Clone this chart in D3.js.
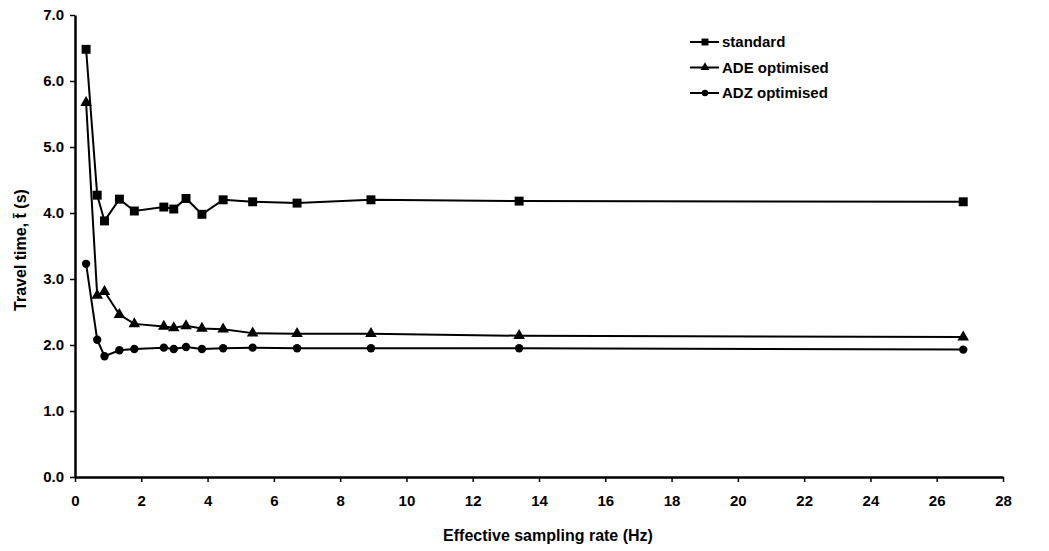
<!DOCTYPE html>
<html>
<head>
<meta charset="utf-8">
<script src="https://cdn.jsdelivr.net/npm/d3@7"></script>
<style>
  body { margin: 0; background: #fff; }
  svg { display: block; font-family: "Liberation Sans", Arial, sans-serif; }
  .axis path, .axis line { stroke: #000; }
  .axis text { font-size: 15px; font-weight: bold; fill: #000; }
</style>
</head>
<body>
<script>
// effective sampling rate (Hz) for each run
var rates = [0.335, 0.67, 0.89, 1.34, 1.79, 2.68, 2.98, 3.35, 3.83, 4.47, 5.36, 6.7, 8.93, 13.4, 26.8];

// mean travel time (s)
var standard = [6.48, 4.27, 3.88, 4.21, 4.03, 4.09, 4.06, 4.22, 3.98, 4.20, 4.17, 4.15, 4.20, 4.18, 4.17];
var adeOptimised = [5.67, 2.75, 2.81, 2.46, 2.32, 2.28, 2.26, 2.29, 2.25, 2.24, 2.18, 2.17, 2.17, 2.14, 2.12];
var adzOptimised = [3.23, 2.08, 1.83, 1.92, 1.94, 1.96, 1.94, 1.97, 1.94, 1.95, 1.96, 1.95, 1.95, 1.95, 1.93];

var seriesNames = ["standard", "ADE optimised", "ADZ optimised"];
var seriesSymbols = [d3.symbolSquare, d3.symbolTriangle, d3.symbolCircle];
var xTicks = d3.range(0, 29, 2);
var yTicks = d3.range(0, 8, 1);

var W = 1049, H = 551;
var margin = {left: 75, right: 46, top: 15, bottom: 74};

var svg = d3.select("body").append("svg")
    .attr("width", W)
    .attr("height", H);

var x = d3.scaleLinear().domain([0, 28]).range([margin.left, W - margin.right]);
var y = d3.scaleLinear().domain([0, 7]).range([H - margin.bottom, margin.top]);

// axes
var xAxis = svg.append("g")
    .attr("class", "axis")
    .attr("transform", "translate(0," + y(0) + ")")
    .call(d3.axisBottom(x).tickValues(xTicks).tickSize(5).tickPadding(13).tickSizeOuter(0));
xAxis.select(".domain").attr("stroke-width", 2.5);
xAxis.selectAll(".tick line").attr("stroke-width", 1.5);

var yAxis = svg.append("g")
    .attr("class", "axis")
    .attr("transform", "translate(" + x(0) + ",0)")
    .call(d3.axisLeft(y).tickValues(yTicks).tickFormat(d3.format(".1f")).tickSize(5).tickPadding(6).tickSizeOuter(0));
yAxis.select(".domain").attr("stroke-width", 2.5);
yAxis.selectAll(".tick line").attr("stroke-width", 1.5);

// axis titles
svg.append("text")
    .attr("x", 548).attr("y", 541)
    .attr("text-anchor", "middle")
    .attr("font-size", 16).attr("font-weight", "bold")
    .text("Effective sampling rate (Hz)");

svg.append("text")
    .attr("transform", "translate(26,250) rotate(-90)")
    .attr("text-anchor", "middle")
    .attr("font-size", 16).attr("font-weight", "bold")
    .text("Travel time, t\u0304 (s)");

// lines + markers
var series = [standard, adeOptimised, adzOptimised];
var line = d3.line()
    .x(function(d, i) { return x(rates[i]); })
    .y(function(d) { return y(d); });
var symbolSizes = [80, 58, 55];

series.forEach(function(vals, k) {
  svg.append("path")
      .attr("d", line(vals))
      .attr("fill", "none")
      .attr("stroke", "#000")
      .attr("stroke-width", 2);
  svg.append("g").selectAll("path")
      .data(vals)
    .enter().append("path")
      .attr("transform", function(d, i) { return "translate(" + x(rates[i]) + "," + y(d) + ")"; })
      .attr("d", d3.symbol().type(seriesSymbols[k]).size(symbolSizes[k]))
      .attr("fill", "#000");
});

// legend
var legend = svg.append("g").attr("transform", "translate(690,42)");
seriesNames.forEach(function(name, k) {
  var row = legend.append("g").attr("transform", "translate(0," + (k * 25.5) + ")");
  row.append("line")
      .attr("x1", 0).attr("x2", 29)
      .attr("stroke", "#000").attr("stroke-width", 2);
  row.append("path")
      .attr("transform", "translate(15,0)")
      .attr("d", d3.symbol().type(seriesSymbols[k]).size(symbolSizes[k] * 0.6))
      .attr("fill", "#000");
  row.append("text")
      .attr("x", 32).attr("dy", "0.35em")
      .attr("font-size", 15).attr("font-weight", "bold")
      .text(name);
});
</script>
</body>
</html>
